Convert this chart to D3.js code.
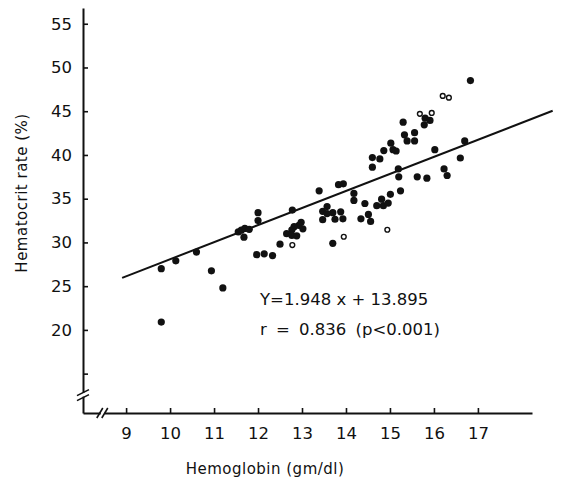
<!DOCTYPE html>
<html>
<head>
  <script src="https://d3js.org/d3.v7.min.js"></script>
  <style>
    body { margin: 0; background: #fff; }
    text { font-family: "DejaVu Sans", sans-serif; fill: #111; }
    .axis .domain { stroke: #111; stroke-width: 2; }
    .axis .tick line { stroke: #111; stroke-width: 1.6; }
    .axis .tick text { font-size: 16.5px; }
  </style>
</head>
<body>
<svg id="chart" width="561" height="485"></svg>
<script>
  // hemoglobin (gm/dl) and hematocrit (%) of the filled dots
  const hemoglobin = [9.8, 9.8, 10.13, 10.6, 10.94, 11.2, 11.68,
    11.55, 11.62, 11.7, 11.8,
    12.0, 12.0, 11.97, 12.14, 12.33, 12.5, 12.78,
    12.98, 12.93, 13.02, 12.82, 12.77, 12.65, 12.77, 12.88,
    13.39, 13.83, 13.94, 13.7,
    13.47, 13.57, 13.7, 13.47, 13.57, 13.75, 13.88, 13.93,
    14.18, 14.18, 14.43, 14.34, 14.51, 14.56, 14.7, 14.81, 14.85, 14.96, 15.01, 15.24,
    14.6, 14.77, 14.6, 14.86, 15.02, 15.07, 15.14,
    15.19, 15.2, 15.3, 15.33, 15.56, 15.39, 15.56, 15.62, 15.84, 16.02, 15.78, 15.8, 15.91,
    16.23, 16.3, 16.6, 16.7, 16.83];
  const hematocrit = [27.0, 20.9, 27.9, 28.9, 26.75, 24.8, 30.6,
    31.2, 31.4, 31.6, 31.5,
    33.4, 32.5, 28.6, 28.7, 28.5, 29.8, 33.7,
    32.3, 31.95, 31.55, 31.8, 31.45, 31.0, 30.8, 30.75,
    35.9, 36.6, 36.7, 29.9,
    33.55, 34.1, 33.4, 32.6, 33.3, 32.65, 33.5, 32.7,
    35.6, 34.8, 34.45, 32.7, 33.2, 32.4, 34.2, 34.95, 34.2, 34.5, 35.5, 35.9,
    39.7, 39.55, 38.6, 40.5, 41.35, 40.6, 40.45,
    38.4, 37.5, 43.75, 42.3, 42.55, 41.6, 41.6, 37.5, 37.35, 40.6, 43.45, 44.2, 43.95,
    38.4, 37.65, 39.65, 41.6, 48.5];

  // open symbols
  const openHemoglobin = [12.78, 13.95, 14.94, 15.68, 15.95, 16.2, 16.34];
  const openHematocrit = [29.7, 30.65, 31.45, 44.7, 44.8, 46.75, 46.55];

  const xTicks = [9, 10, 11, 12, 13, 14, 15, 16, 17];
  const yTicks = [15, 20, 25, 30, 35, 40, 45, 50, 55];
  const yTickLabels = ["", "20", "25", "30", "35", "40", "45", "50", "55"];

  // regression line as drawn (end points)
  const lineX = [8.91, 18.7];
  const lineY = [25.95, 45.05];

  const svg = d3.select("#chart");

  const x = d3.scaleLinear().domain([8.02, 18.23]).range([83, 532]);
  const y = d3.scaleLinear().domain([10.5, 56.8]).range([413, 8]);

  // axes, ticks pointing inward
  const xAxis = d3.axisBottom(x).tickValues(xTicks).tickSizeInner(-5).tickSizeOuter(0).tickPadding(14);
  const yAxis = d3.axisLeft(y).tickValues(yTicks).tickSizeInner(-5).tickSizeOuter(0).tickPadding(11)
    .tickFormat((d, i) => yTickLabels[i]);

  svg.append("g").attr("class", "axis").attr("transform", `translate(0,${y(10.5)})`).call(xAxis);
  svg.append("g").attr("class", "axis").attr("transform", `translate(${x(8.02)},0)`).call(yAxis);

  // axis breaks
  const bx = x(8.02), by = y(10.5);
  const yb = y(12.6);
  svg.append("rect").attr("x", bx - 4).attr("y", yb - 2).attr("width", 8).attr("height", 4).attr("fill", "#fff");
  [-2, 3].forEach(o => {
    svg.append("line").attr("x1", bx - 6).attr("y1", yb + o + 3).attr("x2", bx + 6).attr("y2", yb + o - 3)
      .attr("stroke", "#111").attr("stroke-width", 1.6);
  });
  const xb = x(8.47);
  svg.append("rect").attr("x", xb - 2).attr("y", by - 4).attr("width", 4).attr("height", 8).attr("fill", "#fff");
  [-3, 2].forEach(o => {
    svg.append("line").attr("x1", xb + o - 3).attr("y1", by + 5).attr("x2", xb + o + 3).attr("y2", by - 5)
      .attr("stroke", "#111").attr("stroke-width", 1.6);
  });

  // regression line
  svg.append("line")
    .attr("x1", x(lineX[0])).attr("y1", y(lineY[0]))
    .attr("x2", x(lineX[1])).attr("y2", y(lineY[1]))
    .attr("stroke", "#111").attr("stroke-width", 2);

  // points
  svg.append("g").selectAll("circle")
    .data(hemoglobin.map((h, i) => [h, hematocrit[i]]))
    .enter().append("circle")
    .attr("cx", d => x(d[0])).attr("cy", d => y(d[1]))
    .attr("r", 3.6).attr("fill", "#111");

  svg.append("g").selectAll("circle")
    .data(openHemoglobin.map((h, i) => [h, openHematocrit[i]]))
    .enter().append("circle")
    .attr("cx", d => x(d[0])).attr("cy", d => y(d[1]))
    .attr("r", 2.4).attr("fill", "#fff").attr("stroke", "#111").attr("stroke-width", 1.4);

  // labels
  svg.append("text").attr("x", 265).attr("y", 474).attr("text-anchor", "middle")
    .style("font-size", "15px").style("letter-spacing", "0.5px").text("Hemoglobin (gm/dl)");
  svg.append("text").attr("transform", "translate(27,193) rotate(-90)").attr("text-anchor", "middle")
    .style("font-size", "15px").style("letter-spacing", "0.5px").text("Hematocrit  rate (%)");

  svg.append("text").attr("x", 260).attr("y", 305).style("font-size", "16.5px").text("Y=1.948 x + 13.895");
  svg.append("text").attr("x", 260).attr("y", 335).style("font-size", "16.5px")
    .style("word-spacing", "4px").text("r = 0.836 (p<0.001)");
</script>
</body>
</html>
